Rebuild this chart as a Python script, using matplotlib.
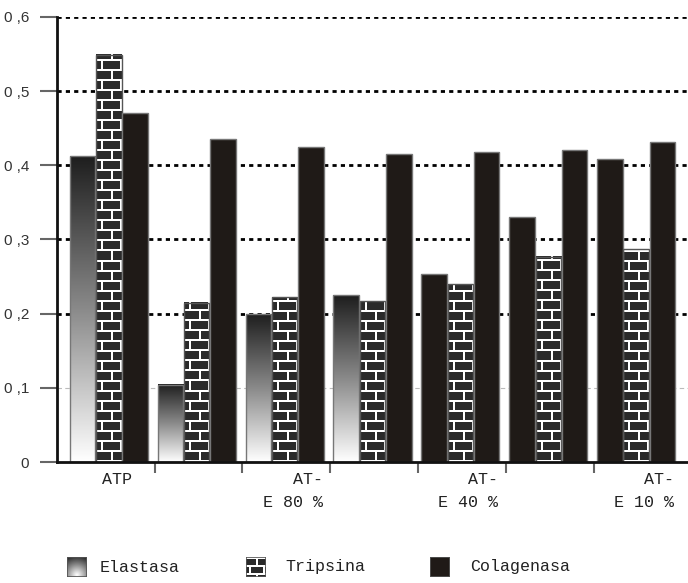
import numpy as np
import matplotlib.pyplot as plt
import matplotlib.transforms as mtransforms
from matplotlib.colors import LinearSegmentedColormap
from matplotlib.patches import Rectangle

# data
groups = ['ATP', '', 'AT-\nE 80 %', '', 'AT-\nE 40 %', '', 'AT-\nE 10 %']
elastasa = [0.412, 0.104, 0.199, 0.225, 0.253, 0.331, 0.408]
tripsina = [0.549, 0.215, 0.222, 0.217, 0.240, 0.277, 0.287]
colagenasa = [0.471, 0.435, 0.425, 0.415, 0.418, 0.421, 0.431]
series_names = ['Elastasa', 'Tripsina', 'Colagenasa']
yticks = [0, 0.1, 0.2, 0.3, 0.4, 0.5, 0.6]
ytick_labels = ['0', '0 ,1', '0 ,2', '0 ,3', '0 ,4', '0 ,5', '0 ,6']

# elastasa bars drawn with gradient (last ones came out solid in the original)
gradient_on = [True, True, True, True, False, False, False]

dark = '#1f1a17'
grad_cmap = LinearSegmentedColormap.from_list('grad', ['#ffffff', '#8a8a8a', '#1e1e1e'])
brick_cmap = LinearSegmentedColormap.from_list('brick', ['#2a2a2a', '#ffffff'])


def brick(h, w, period=10, blen=18, mortar=2):
    yy, xx = np.mgrid[0:h, 0:w]
    row = yy // period
    horiz = (yy % period) < mortar
    off = (row % 2) * (blen // 2) + 4
    vert = ((xx + off) % blen) < mortar
    return (horiz | vert).astype(float)


fig = plt.figure(figsize=(6.88, 5.83), dpi=100)
ax = fig.add_axes([57 / 688, 121 / 583, 631 / 688, 445 / 583])
xlim = (-0.59, 6.59)
ax.set_xlim(*xlim)
ax.set_ylim(0, 0.6)

px_x = 631 / (xlim[1] - xlim[0])
px_y = 445 / 0.6

x = np.arange(len(groups))
w = 0.29
offs = [-0.3, 0.0, 0.3]

# grid
for v in [0.2, 0.3, 0.4, 0.5, 0.6]:
    ax.axhline(v, color='black', lw=2, ls=(0, (1.5, 1.5)), zorder=0)
ax.axhline(0.1, color='#bbbbbb', lw=0.8, ls=(0, (4, 3)), zorder=0)

for i in range(len(groups)):
    # elastasa
    x0 = x[i] + offs[0] - w / 2
    h = elastasa[i]
    if gradient_on[i]:
        ax.imshow(np.linspace(0, 1, 256).reshape(-1, 1), cmap=grad_cmap, origin='lower',
                  extent=[x0, x0 + w, 0, h], aspect='auto', zorder=2)
        ax.add_patch(Rectangle((x0, 0), w, h, fill=False, ec='#777777', lw=1, zorder=3))
    else:
        ax.add_patch(Rectangle((x0, 0), w, h, fc=dark, ec='#777777', lw=1, zorder=3))

    # tripsina
    x0 = x[i] + offs[1] - w / 2
    h = tripsina[i]
    hp = max(int(round(h * px_y)), 1)
    wp = max(int(round(w * px_x)), 1)
    ax.imshow(brick(hp, wp), cmap=brick_cmap, origin='lower', interpolation='nearest',
              extent=[x0, x0 + w, 0, h], aspect='auto', zorder=2)
    ax.add_patch(Rectangle((x0, 0), w, h, fill=False, ec='#555555', lw=1, zorder=3))

    # colagenasa
    x0 = x[i] + offs[2] - w / 2
    ax.add_patch(Rectangle((x0, 0), w, colagenasa[i], fc=dark, ec='#777777', lw=1, zorder=3))

ax.set_xlim(*xlim)
ax.set_ylim(0, 0.6)

for s in ['top', 'right']:
    ax.spines[s].set_visible(False)
ax.spines['left'].set_linewidth(2)
ax.spines['left'].set_color('#111111')
ax.spines['bottom'].set_linewidth(2)
ax.spines['bottom'].set_color('#111111')
ax.spines['left'].set_zorder(5)
ax.spines['bottom'].set_zorder(5)

ax.set_yticks(yticks)
ax.set_yticklabels(ytick_labels, fontfamily='Liberation Sans', fontsize=11, color='#333333')
ax.tick_params(axis='y', length=12, width=1.5, color='#666666', pad=8)

ax.set_xticks(x)
ax.set_xticklabels(groups, fontfamily='Liberation Mono', fontsize=12, linespacing=1.7,
                   multialignment='right', color='#222222')
ax.set_xticks(np.arange(6) + 0.52, minor=True)
ax.tick_params(axis='x', which='major', length=0, pad=7)
ax.tick_params(axis='x', which='minor', length=8, width=1.5, color='#666666')
shift = mtransforms.ScaledTranslation(8 / 100, 0, fig.dpi_scale_trans)
for lab in ax.get_xticklabels():
    lab.set_transform(lab.get_transform() + shift)

# legend drawn by hand
leg_x = [67, 246, 430]
txt_x = [100, 285, 470]
for k, name in enumerate(series_names):
    sax = fig.add_axes([leg_x[k] / 688, (583 - 577) / 583, 20 / 688, 20 / 583])
    sax.set_axis_off()
    if k == 0:
        g = np.linspace(0, 1, 64)
        gx, gy = np.meshgrid(g, g)
        sax.imshow(1 - np.sqrt((gx - 0.5) ** 2 + (gy - 0.1) ** 2), cmap=grad_cmap.reversed(),
                   origin='lower', extent=[0, 1, 0, 1], aspect='auto')
    elif k == 1:
        sax.imshow(brick(20, 20, period=8, blen=14), cmap=brick_cmap, origin='upper',
                   interpolation='nearest', extent=[0, 1, 0, 1], aspect='auto')
    else:
        sax.add_patch(Rectangle((0, 0), 1, 1, fc=dark))
    sax.add_patch(Rectangle((0, 0), 1, 1, fill=False, ec='#555555', lw=1.2))
    sax.set_xlim(0, 1)
    sax.set_ylim(0, 1)
    fig.text(txt_x[k] / 688, (583 - 567) / 583, name, fontfamily='Liberation Mono',
             fontsize=12, va='center', ha='left', color='#222222')

plt.savefig('out.png', dpi=100)
